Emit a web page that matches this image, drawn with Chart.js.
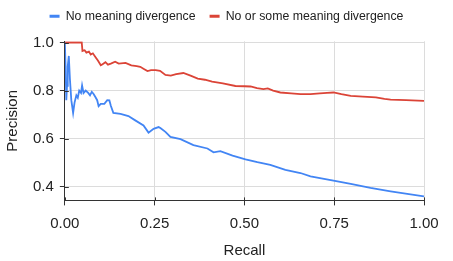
<!DOCTYPE html>
<html>
<head>
<meta charset="utf-8">
<script src="https://cdn.jsdelivr.net/npm/chart.js@4/dist/chart.umd.min.js"></script>
<style>
   html, body { margin: 0; padding: 0; background: #fff; }
   #wrap { width: 453px; height: 261px; }
</style>
</head>
<body>
<div id="wrap"><canvas id="prChart" width="453" height="261"></canvas></div>
<script>
// series
const seriesNames = ["No meaning divergence", "No or some meaning divergence"];

const blueRecall = [0, 0.002, 0.004, 0.006, 0.008, 0.011, 0.014, 0.018, 0.023, 0.027, 0.032, 0.036,
   0.04, 0.045, 0.048, 0.052, 0.058, 0.065, 0.07, 0.075, 0.08, 0.085, 0.09, 0.094, 0.1, 0.11,
   0.118, 0.124, 0.128, 0.135, 0.155, 0.177, 0.196, 0.219, 0.233, 0.247, 0.261, 0.266, 0.28,
   0.294, 0.322, 0.358, 0.397, 0.414, 0.433, 0.467, 0.503, 0.536, 0.572, 0.614, 0.656, 0.684,
   0.748, 0.796, 0.851, 0.907, 1.0];
const bluePrecision = [1.0, 0.9, 0.76, 0.82, 0.9, 0.944, 0.85, 0.76, 0.707, 0.75, 0.78, 0.77,
   0.8, 0.79, 0.821, 0.79, 0.8, 0.79, 0.78, 0.795, 0.786, 0.773, 0.76, 0.735, 0.745, 0.745,
   0.76, 0.759, 0.737, 0.707, 0.703, 0.694, 0.676, 0.655, 0.625, 0.641, 0.648, 0.644, 0.628,
   0.607, 0.598, 0.573, 0.559, 0.543, 0.548, 0.529, 0.514, 0.502, 0.491, 0.47, 0.457, 0.443,
   0.425, 0.412, 0.395, 0.381, 0.36];

const redRecall = [0, 0.047, 0.049, 0.055, 0.06, 0.067, 0.072, 0.078, 0.085, 0.092, 0.1, 0.105,
   0.113, 0.12, 0.128, 0.14, 0.15, 0.169, 0.185, 0.2, 0.21, 0.22, 0.23, 0.24, 0.253, 0.265,
   0.28, 0.295, 0.31, 0.33, 0.35, 0.37, 0.39, 0.41, 0.44, 0.475, 0.5, 0.517, 0.535, 0.553,
   0.565, 0.58, 0.6, 0.63, 0.656, 0.684, 0.71, 0.73, 0.748, 0.77, 0.796, 0.83, 0.866, 0.89,
   0.907, 0.95, 1.0];
const redPrecision = [1.0, 1.0, 0.965, 0.968, 0.958, 0.962, 0.95, 0.955, 0.94, 0.925, 0.905, 0.91,
   0.918, 0.908, 0.912, 0.92, 0.912, 0.915, 0.905, 0.902, 0.899, 0.89, 0.881, 0.885, 0.885, 0.882,
   0.865, 0.862, 0.868, 0.873, 0.862, 0.85, 0.845, 0.837, 0.83, 0.819, 0.818, 0.817, 0.81, 0.806,
   0.809, 0.8, 0.792, 0.788, 0.785, 0.785, 0.788, 0.79, 0.792, 0.785, 0.778, 0.775, 0.772, 0.765,
   0.762, 0.76, 0.757];

const xTicks = [0, 0.25, 0.5, 0.75, 1.0];
const yTicks = [0.4, 0.6, 0.8, 1.0];

const FONT = "'Liberation Sans', Arial, sans-serif";
const AXIS_COLOR = "#333333";

function toPoints(xs, ys)
{
   return xs.map(function(x, i)
   {
      return { x: x, y: ys[i] };
   });
}

// adds room under the legend so the plot starts where the reference does
const legendGap =
{
   id: "legendGap",
   beforeLayout(chart)
   {
      const legend = chart.legend;
      if (legend && !legend._gapPatched)
      {
         const fit = legend.fit;
         legend.fit = function()
         {
            fit.call(this);
            this.height += 9;
         };
         legend._gapPatched = true;
      }
   }
};

// short tick stubs on the inner side of both axes
const innerTicks =
{
   id: "innerTicks",
   afterDraw(chart)
   {
      const ctx = chart.ctx;
      const area = chart.chartArea;
      const xs = chart.scales.x;
      const ys = chart.scales.y;
      ctx.save();
      ctx.strokeStyle = AXIS_COLOR;
      ctx.lineWidth = 1;
      ctx.beginPath();
      xTicks.forEach(function(v)
      {
         const px = Math.round(xs.getPixelForValue(v)) + 0.5;
         ctx.moveTo(px, area.bottom);
         ctx.lineTo(px, area.bottom - 3);
      });
      yTicks.forEach(function(v)
      {
         const py = Math.round(ys.getPixelForValue(v)) + 0.5;
         ctx.moveTo(area.left, py);
         ctx.lineTo(area.left + 4, py);
      });
      ctx.stroke();
      ctx.restore();
   }
};

const ctx = document.getElementById("prChart").getContext("2d");
const chart = new Chart(ctx,
{
   type: "line",
   data:
   {
      datasets: [
         {
            label: seriesNames[0],
            data: toPoints(blueRecall, bluePrecision),
            borderColor: "#4285F4",
            backgroundColor: "#4285F4",
            borderWidth: 1.8,
            pointRadius: 0,
            tension: 0,
         },
         {
            label: seriesNames[1],
            data: toPoints(redRecall, redPrecision),
            borderColor: "#DB4437",
            backgroundColor: "#DB4437",
            borderWidth: 1.8,
            pointRadius: 0,
            tension: 0,
         },
      ],
   },
   options:
   {
      responsive: false,
      animation: false,
      layout: { padding: { top: -4, left: 0, right: 0, bottom: 0 } },
      plugins:
      {
         tooltip: { enabled: false },
         legend:
         {
            position: "top",
            labels:
            {
               boxWidth: 10,
               boxHeight: 3,
               padding: 14,
               color: "#222",
               font: { family: FONT, size: 12.3 },
               generateLabels(c)
               {
                  return Chart.defaults.plugins.legend.labels.generateLabels(c).map(function(item)
                  {
                     item.lineWidth = 0;
                     return item;
                  });
               },
            },
         },
      },
      scales:
      {
         x:
         {
            type: "linear",
            min: 0,
            max: 1,
            afterBuildTicks(scale)
            {
               scale.ticks = xTicks.map(function(v) { return { value: v }; });
            },
            ticks:
            {
               padding: 9.3,
               color: "#222",
               font: { family: FONT, size: 15 },
               callback: function(v) { return Number(v).toFixed(2); },
            },
            grid: { color: "#dcdcdc", tickColor: AXIS_COLOR, tickLength: 5 },
            border: { display: true, color: AXIS_COLOR, width: 1 },
            title:
            {
               display: true,
               text: "Recall",
               color: "#222",
               font: { family: FONT, size: 15 },
               padding: { top: 0, bottom: 1 },
            },
         },
         y:
         {
            type: "linear",
            min: 0.343,
            max: 1.005,
            afterBuildTicks(scale)
            {
               scale.ticks = yTicks.map(function(v) { return { value: v }; });
            },
            ticks:
            {
               padding: 6,
               color: "#222",
               font: { family: FONT, size: 15 },
               callback: function(v) { return Number(v).toFixed(1); },
            },
            grid: { color: "#dcdcdc", tickColor: AXIS_COLOR, tickLength: 5 },
            border: { display: true, color: AXIS_COLOR, width: 1 },
            title:
            {
               display: true,
               text: "Precision",
               color: "#222",
               font: { family: FONT, size: 15 },
               padding: { top: 4, bottom: 5 },
            },
         },
         // empty right-hand strip, keeps the plot off the right edge
         // while the legend stays centred on the whole canvas
         yRight:
         {
            type: "linear",
            position: "right",
            display: true,
            grid: { display: false },
            ticks: { display: false },
            border: { display: false },
            afterFit(scale)
            {
               scale.width = 29;
            },
         },
      },
   },
   plugins: [legendGap, innerTicks],
});
</script>
</body>
</html>
